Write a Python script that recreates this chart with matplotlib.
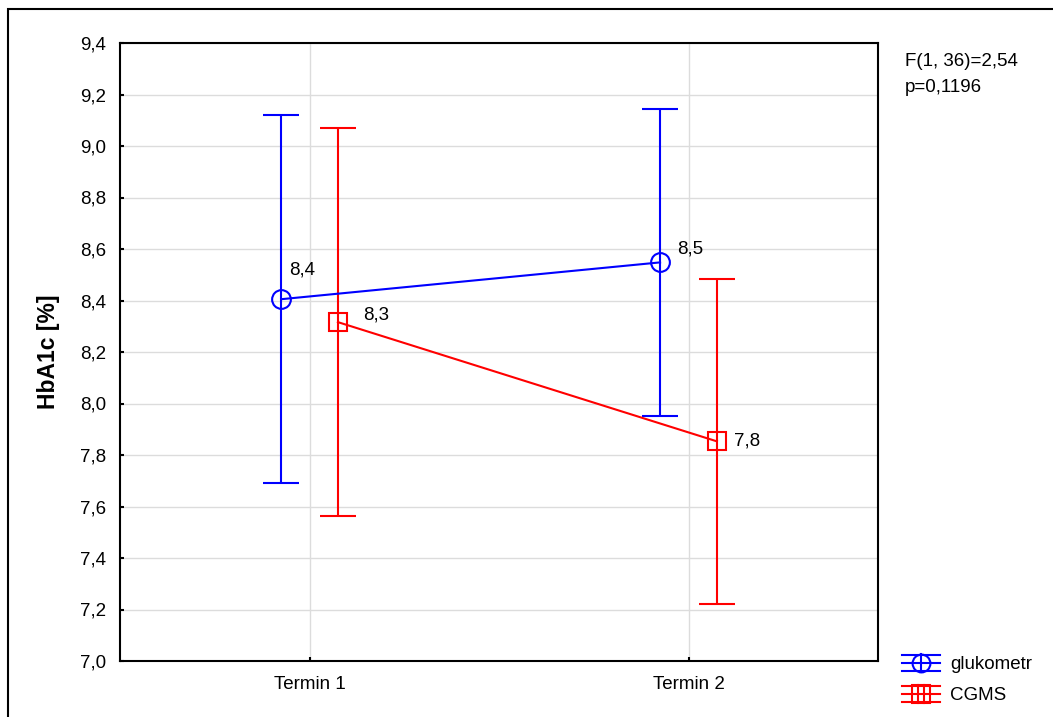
import matplotlib
matplotlib.use("Agg")
import matplotlib.pyplot as plt
from matplotlib.lines import Line2D
from matplotlib.patches import Rectangle
from matplotlib.legend_handler import HandlerBase
import numpy as np

plt.rcParams['font.family'] = ['Liberation Sans', 'DejaVu Sans']

# data
terms = ["Termin 1", "Termin 2"]
gluko_mean = [8.405, 8.548]
gluko_err = [0.715, 0.595]
cgms_mean = [8.316, 7.853]
cgms_err = [0.752, 0.630]
gluko_labels = ["8,4", "8,5"]
cgms_labels = ["8,3", "7,8"]
yticks = [7.0, 7.2, 7.4, 7.6, 7.8, 8.0, 8.2, 8.4, 8.6, 8.8, 9.0, 9.2, 9.4]

BLUE = "#0000ff"
RED = "#ff0000"
FS = 13.5


class ErrGlyph(HandlerBase):
    # legend glyph: three horizontal lines + marker with inner lines
    def __init__(self, color, kind):
        super().__init__()
        self.color = color
        self.kind = kind

    def create_artists(self, legend, orig_handle, xdescent, ydescent,
                       width, height, fontsize, trans):
        x0, x1 = -xdescent, -xdescent + width
        cx, cy = (x0 + x1) / 2, -ydescent + height / 2
        h = 5.8
        r = 6.4
        arts = []
        for yy in (cy - h, cy, cy + h):
            arts.append(Line2D([x0, x1], [yy, yy], color=self.color, lw=1.5))
        if self.kind == "o":
            arts.append(Line2D([cx], [cy], marker="o", ms=2 * r, mfc="none",
                               mec=self.color, mew=1.5, ls="none"))
            arts.append(Line2D([cx, cx], [cy - r, cy + r], color=self.color, lw=1.5))
        else:
            arts.append(Line2D([cx], [cy], marker="s", ms=2 * r, mfc="none",
                               mec=self.color, mew=1.5, ls="none"))
            for dx in (-r / 3, r / 3):
                arts.append(Line2D([cx + dx, cx + dx], [cy - r, cy + r],
                                   color=self.color, lw=1.5))
        for a in arts:
            a.set_transform(trans)
        return arts


fig = plt.figure(figsize=(10.53, 7.17), dpi=100)
ax = fig.add_axes([120 / 1053, 56 / 717, 758 / 1053, 618 / 717])

x = np.arange(1, len(terms) + 1)
off = 0.075

ax.errorbar(x - off, gluko_mean, yerr=gluko_err, color=BLUE, lw=1.5,
            capsize=13, capthick=1.5, marker="o", ms=13.5, mfc="none",
            mec=BLUE, mew=1.5, zorder=3)
ax.errorbar(x + off, cgms_mean, yerr=cgms_err, color=RED, lw=1.5,
            capsize=13, capthick=1.5, marker="s", ms=12.5, mfc="none",
            mec=RED, mew=1.5, zorder=3)

g_off = [(8, 29), (17, 13)]
c_off = [(25, 7), (17, 0)]
for i in range(len(terms)):
    ax.annotate(gluko_labels[i], (x[i] - off, gluko_mean[i]), xytext=g_off[i],
                textcoords="offset pixels", ha="left", va="center", fontsize=FS)
    ax.annotate(cgms_labels[i], (x[i] + off, cgms_mean[i]), xytext=c_off[i],
                textcoords="offset pixels", ha="left", va="center", fontsize=FS)

ax.set_xlim(0.5, len(terms) + 0.5)
ax.set_ylim(7.0, 9.4)
ax.set_xticks(x)
ax.set_xticklabels(terms)
ax.set_yticks(yticks)
ax.set_yticklabels([f"{v:.1f}".replace(".", ",") for v in yticks])
ax.tick_params(direction="in", length=3, width=1.5, labelsize=FS)
ax.tick_params(axis="y", pad=10)
ax.tick_params(axis="x", pad=11)
ax.grid(True, color="#dcdcdc", lw=1)
ax.set_axisbelow(True)
for s in ax.spines.values():
    s.set_linewidth(1.5)

ax.set_ylabel("HbA1c [%]", fontsize=16.5, fontweight="bold",
              family=["Liberation Sans", "DejaVu Sans"])
ax.yaxis.set_label_coords(-0.079, 0.5)

fig.text(905 / 1053, 1 - 61 / 717, "F(1, 36)=2,54", fontsize=FS, va="center")
fig.text(905 / 1053, 1 - 88 / 717, "p=0,1196", fontsize=FS, va="center")

h1 = Line2D([], [], color=BLUE)
h2 = Line2D([], [], color=RED)
fig.legend([h1, h2], ["glukometr", "CGMS"],
           handler_map={h1: ErrGlyph(BLUE, "o"), h2: ErrGlyph(RED, "s")},
           loc="upper left", bbox_to_anchor=(902 / 1053, 1 - 654 / 717),
           frameon=False, fontsize=FS, handlelength=2.0, handleheight=1.1,
           handletextpad=0.55, labelspacing=0.6, borderpad=0, borderaxespad=0)

# outer frame
fig.add_artist(Rectangle((8 / 1053, -0.1), 1.2, 1 - 9 / 717 + 0.1,
                         transform=fig.transFigure, fill=False, lw=1.5,
                         edgecolor="black"))

fig.savefig("out.png", dpi=100)
